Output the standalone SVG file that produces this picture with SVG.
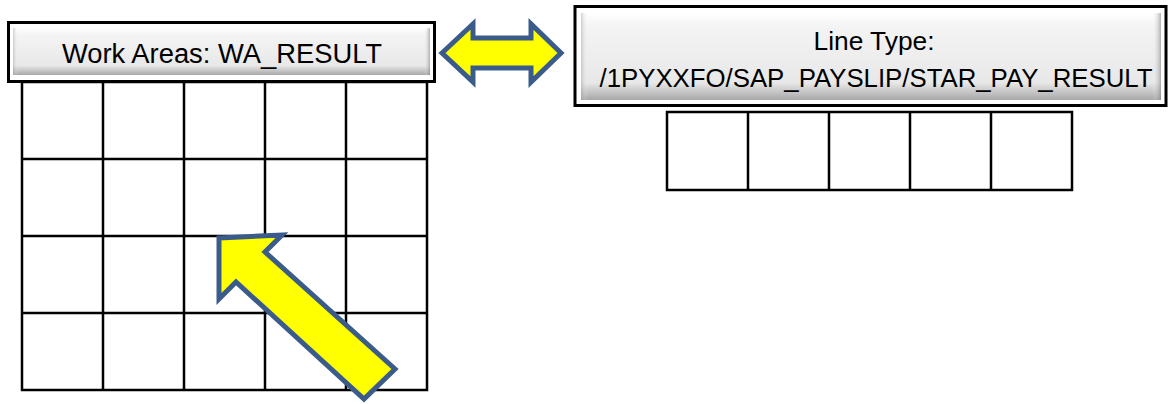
<svg xmlns="http://www.w3.org/2000/svg" width="1168" height="404" viewBox="0 0 1168 404">
  <defs>
    <linearGradient id="gv" x1="0" y1="0" x2="0" y2="1">
      <stop offset="0" stop-color="#ffffff"/>
      <stop offset="0.15" stop-color="#f4f4f4"/>
      <stop offset="0.8" stop-color="#e8e8e8"/>
      <stop offset="1" stop-color="#a8a8a8"/>
    </linearGradient>
    <linearGradient id="gh" x1="0" y1="0" x2="1" y2="0">
      <stop offset="0" stop-color="#9a9a9a" stop-opacity="0.45"/>
      <stop offset="0.012" stop-color="#ffffff" stop-opacity="0"/>
      <stop offset="0.985" stop-color="#ffffff" stop-opacity="0"/>
      <stop offset="1" stop-color="#7a7a7a" stop-opacity="0.55"/>
    </linearGradient>
    <style>
      .frame { fill: #ffffff; stroke: #000000; stroke-width: 3; }
      .btn { fill: url(#gv); }
      .btnh { fill: url(#gh); }
      .grid { fill: none; stroke: #000000; stroke-width: 2.5; }
      .lbl { font-family: "Liberation Sans", Arial, sans-serif; fill: #000000; text-anchor: middle; }
      .arrow { fill: #ffff00; stroke: #3b5c8a; stroke-width: 5; stroke-linejoin: miter; }
    </style>
  </defs>

  <g id="left-grid">
    <rect class="grid" x="22" y="82" width="405" height="308"/>
    <path class="grid" d="M103 82V390M184 82V390M265 82V390M346 82V390M22 159H427M22 236H427M22 313H427"/>
  </g>

  <g id="left-header">
    <rect class="frame" x="8.5" y="22.5" width="426" height="59"/>
    <rect class="btn" x="13" y="28" width="417" height="47"/>
    <rect class="btnh" x="13" y="28" width="417" height="47"/>
    <text class="lbl" x="222" y="63" font-size="27" textLength="320" lengthAdjust="spacingAndGlyphs">Work Areas: WA_RESULT</text>
  </g>

  <g id="right-header">
    <rect class="frame" x="575" y="6.5" width="591" height="99"/>
    <rect class="btn" x="581" y="13" width="580" height="87"/>
    <rect class="btnh" x="581" y="13" width="580" height="87"/>
    <text class="lbl" x="874" y="50" font-size="26" textLength="121" lengthAdjust="spacingAndGlyphs">Line Type:</text>
    <text class="lbl" x="876" y="87" font-size="25" textLength="553" lengthAdjust="spacingAndGlyphs">/1PYXXFO/SAP_PAYSLIP/STAR_PAY_RESULT</text>
  </g>

  <g id="right-grid">
    <rect class="grid" x="667" y="112" width="405" height="78"/>
    <path class="grid" d="M748 112V190M829 112V190M910 112V190M991 112V190"/>
  </g>

  <g id="connectors">
    <polygon class="arrow" points="442,53 473,24 473,38 531,38 531,24 561,53 531,82 531,68 473,68 473,82"/>
    <polygon class="arrow" points="219,238 282,235 265,252 395,369 364,399 236,282 219,299"/>
  </g>
</svg>
